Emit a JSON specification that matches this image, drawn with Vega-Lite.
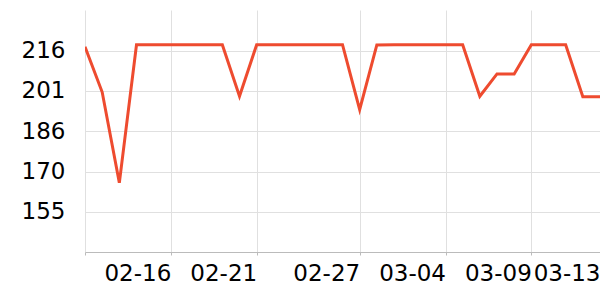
{
  "$schema": "https://vega.github.io/schema/vega-lite/v6.json",
  "width": 515,
  "height": 242,
  "autosize": {"type": "none"},
  "padding": {"left": 85, "top": 10, "right": 0, "bottom": 48},
  "config": {
    "view": {"stroke": null},
    "font": "DejaVu Sans",
    "axis": {"labelFont": "DejaVu Sans", "labelFontSize": 23, "labelColor": "#000000", "gridColor": "#e0e0e0", "gridWidth": 1, "title": null}
  },
  "data": {
    "values": [
      {"date": "2023-02-11", "value": 217.7},
      {"date": "2023-02-12", "value": 200.5},
      {"date": "2023-02-13", "value": 166.0},
      {"date": "2023-02-14", "value": 218.5},
      {"date": "2023-02-15", "value": 218.5},
      {"date": "2023-02-16", "value": 218.5},
      {"date": "2023-02-17", "value": 218.5},
      {"date": "2023-02-18", "value": 218.5},
      {"date": "2023-02-19", "value": 218.5},
      {"date": "2023-02-20", "value": 198.9},
      {"date": "2023-02-21", "value": 218.5},
      {"date": "2023-02-22", "value": 218.5},
      {"date": "2023-02-23", "value": 218.5},
      {"date": "2023-02-24", "value": 218.5},
      {"date": "2023-02-25", "value": 218.5},
      {"date": "2023-02-26", "value": 218.5},
      {"date": "2023-02-27", "value": 193.8},
      {"date": "2023-02-28", "value": 218.4},
      {"date": "2023-03-01", "value": 218.5},
      {"date": "2023-03-02", "value": 218.5},
      {"date": "2023-03-03", "value": 218.5},
      {"date": "2023-03-04", "value": 218.5},
      {"date": "2023-03-05", "value": 218.5},
      {"date": "2023-03-06", "value": 198.9},
      {"date": "2023-03-07", "value": 207.4},
      {"date": "2023-03-08", "value": 207.4},
      {"date": "2023-03-09", "value": 218.5},
      {"date": "2023-03-10", "value": 218.5},
      {"date": "2023-03-11", "value": 218.5},
      {"date": "2023-03-12", "value": 198.7},
      {"date": "2023-03-13", "value": 198.7}
    ]
  },
  "mark": {"type": "line", "color": "#ee4b2f", "strokeWidth": 3, "strokeJoin": "miter", "clip": true},
  "encoding": {
    "x": {
      "field": "date",
      "type": "temporal",
      "scale": {"type": "utc", "nice": false},
      "axis": {
        "values": [
          {"year": 2023, "month": 2, "date": 11, "utc": true},
          {"year": 2023, "month": 2, "date": 16, "utc": true},
          {"year": 2023, "month": 2, "date": 21, "utc": true},
          {"year": 2023, "month": 2, "date": 27, "utc": true},
          {"year": 2023, "month": 3, "date": 4, "utc": true},
          {"year": 2023, "month": 3, "date": 9, "utc": true},
          {"year": 2023, "month": 3, "date": 13, "utc": true}
        ],
        "format": "%m-%d",
        "labelExpr": "utcdate(datum.value) == 11 && utcmonth(datum.value) == 1 ? '' : datum.label",
        "labelAlign": "right",
        "labelBaseline": "top",
        "labelBound": false,
        "labelFlush": false,
        "labelOverlap": false,
        "labelPadding": 7,
        "tickSize": 3,
        "tickColor": "#bbbbbb",
        "domainColor": "#bbbbbb",
        "grid": true
      }
    },
    "y": {
      "field": "value",
      "type": "quantitative",
      "scale": {"domain": [139.7, 231.7], "nice": false, "zero": false},
      "axis": {
        "values": [155.0, 170.3, 185.7, 201.0, 216.3],
        "format": ".0f",
        "domain": false,
        "ticks": false,
        "tickSize": 0,
        "labelPadding": 20,
        "grid": true
      }
    }
  }
}
